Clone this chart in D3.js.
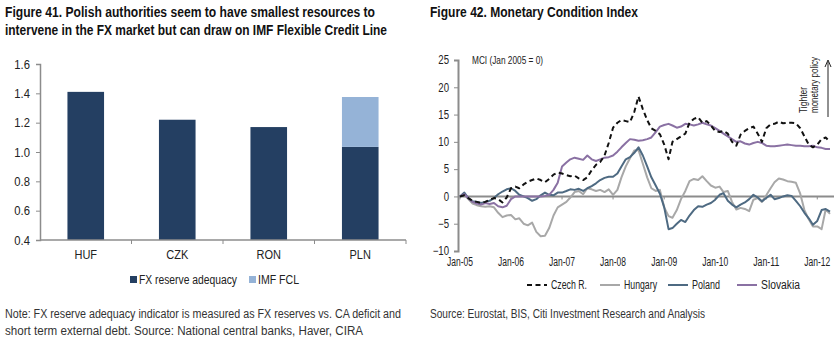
<!DOCTYPE html>
<html>
<head>
<meta charset="utf-8">
<script src="https://cdn.jsdelivr.net/npm/d3@7"></script>
<style>
  body { margin: 0; background: #fff; }
  svg text { font-family: "Liberation Sans", Arial, sans-serif; fill: #222; }
  .title { font-weight: bold; font-size: 14px; fill: #111; }
  .note { font-size: 12px; fill: #333; }
</style>
</head>
<body>
<svg id="page" width="839" height="343"></svg>
<script>
// Figure 41 - reserve adequacy by currency
const currencies = ["HUF", "CZK", "RON", "PLN"];
const fxReserve = [1.41, 1.22, 1.17, 1.035];
const imfFcl = [0, 0, 0, 0.34];
const barTicks = [0.4, 0.6, 0.8, 1.0, 1.2, 1.4, 1.6];

// Figure 42 - monthly MCI, Jan-05 .. Apr-12
const months = d3.timeMonth.range(new Date(2005, 0, 1), new Date(2012, 4, 1));
const czech = [
  0, 0.2, -0.3, -0.8, -1, -1.2, -1, -0.6, -0.3, -0.5, -1.1, -0.2,
  1.5, 1.8, 1.5, 2.2, 2.7, 3.0, 3.3, 3.0, 2.6, 3.2, 4.0, 4.4,
  4.2, 3.9, 3.7, 3.8, 3.3, 3.0, 3.5, 4.8, 5.8, 6.3, 7.5, 9.8,
  12.6, 13.5, 14, 13.8, 13.6, 15.5, 18.3, 16, 14, 12.5, 12, 11.4,
  9.5, 6.8, 10, 10.5, 11, 11.5, 13.5, 14.2, 14.5, 13.5, 13.8, 13,
  12, 11.8, 12, 11.5, 10, 9.3, 11.3, 12, 12.5, 12.8, 11.5, 10,
  12.5, 13.2, 13.3, 13.7, 13.4, 13.5, 13.5, 13.4, 12.5, 11, 9.5, 9,
  9.5, 10.5, 10.8, 10
];
const hungary = [
  0, 0.3, -0.5, -1.3, -1.6, -1.8, -1.9, -1.8, -2, -3, -3.8, -3.5,
  -3.4, -4.2, -4, -5, -5.3, -4.8, -6.5, -7.3, -7.2, -5.8, -3.5, -2,
  -1.5, -1, -0.2, 0.8, 1, 0.4, 1.5, 1.3, 1, 1.2, 0.8, 1.3,
  0.3, 1.2, 3.5, 5.5, 7, 8.4, 8.5, 6, 3.5, 1.5, 1, 1.2,
  -2, -3.6, -3.9, -2.5, -0.5, 1, 2.8, 3.2, 3, 3.7, 2.8, 2,
  1.6, 1.8, 0.8, 1, -1, -2.4, -2.1, -2.3, -2.7, -0.6, -0.3, -1,
  0.2, 1.5, 2.6, 3.3, 3.1, 2.8, 2.7, 2.5, 0.5, -2.5, -4.2, -5.5,
  -5.5, -6, -2.4, -3.2
];
const poland = [
  0, 0.7, -0.3, -0.9, -1, -1.2, -1, -0.8, -0.3, 0.4, 0.9, 1.3,
  1.5, 1, 0.3, 0, -0.3, -0.8, -0.5, 0.2, 0.7, 0.3, 0.2, 0.7,
  0.7, 1, 1.3, 1.2, 1.4, 1, 1.5, 1.9, 2.4, 3, 3.4, 3.6,
  3.6, 4.2, 5.5, 6.8, 7.2, 8, 9, 7.5, 5.5, 3.5, 2, 0.5,
  -2, -6, -5.8, -5, -4.3, -4.7, -3.5, -2.5, -1.8, -1.9, -1.5, -1.2,
  -0.6, 0.3, 0.6, -0.8, -1.5, -2, -1.5, -1.1, -0.5, 0.3, -0.2, -0.9,
  -0.3, 0.3, -0.5, -0.3, 0, 0.2, 0.1, -0.8, -1.8, -3, -4, -5.2,
  -4.5, -2.5, -2.3, -2.8
];
const slovakia = [
  0, 0.4, -0.3, -1, -1.3, -1.5, -1.2, -1.4, -1.2, -1.8, -2, -1.7,
  -0.5, 0, 0, 0, 0, 0, 0, 0, 0.1, 0.3, 1.2, 2.5,
  5.5, 6.2, 6.8, 7.1, 6.9, 6.7, 7.5, 6.8, 6.5, 6.8, 7.1, 7.2,
  7.5, 8.2, 9, 9.8, 10.5, 10.4, 10.2, 10.3, 10.5, 10.8, 11.8, 12.8,
  13.1, 13.3, 13, 12.6, 12.8, 13.3, 13.2, 13, 13.2, 13.5, 13.2, 13,
  12.5, 12, 11.5, 11, 10.5, 10, 10.1, 9.7, 9.5, 9.8, 10, 9.8,
  9.3, 9.2, 9.2, 9.3, 9.4, 9.5, 9.4, 9.3, 9.3, 9.2, 9.2, 9.3,
  9, 8.9, 8.7, 8.7
];
const mciTicks = [-10, -5, 0, 5, 10, 15, 20, 25];
const yearTicks = d3.timeYear.range(new Date(2005, 0, 1), new Date(2012, 1, 1));

const svg = d3.select("#page");
const axisGrey = "#8c8c8c";
const navy = "#243f62";
const lightBlue = "#95b3d7";

// no narrow font installed: squeeze glyphs horizontally instead
function narrow(sel, k) {
  sel.each(function() {
    this.setAttribute("textLength", this.getComputedTextLength() * k);
    this.setAttribute("lengthAdjust", "spacingAndGlyphs");
  });
}
function fitTo(sel, w) {
  sel.attr("textLength", w).attr("lengthAdjust", "spacingAndGlyphs");
}

// titles
svg.append("text").attr("class", "title").attr("x", 5).attr("y", 17)
  .text("Figure 41. Polish authorities seem to have smallest resources to").call(fitTo, 370);
svg.append("text").attr("class", "title").attr("x", 5).attr("y", 35)
  .text("intervene in the FX market but can draw on IMF Flexible Credit Line").call(fitTo, 382);
svg.append("text").attr("class", "title").attr("x", 430).attr("y", 17)
  .text("Figure 42. Monetary Condition Index").call(fitTo, 208);

// ---------- bar chart ----------
const x1 = d3.scaleBand().domain(currencies).range([40, 406]).paddingInner(0.6).paddingOuter(0.3);
const y1 = d3.scaleLinear().domain([0.4, 1.6]).range([240, 64]);

const gy1 = svg.append("g").attr("transform", "translate(40,0)")
  .call(d3.axisLeft(y1).tickValues(barTicks).tickFormat(d3.format(".1f")).tickSize(4).tickPadding(6));
gy1.select(".domain").attr("stroke", axisGrey).attr("stroke-width", 1.5);
gy1.selectAll(".tick line").attr("stroke", axisGrey);
gy1.selectAll(".tick text").style("font-size", "12.5px").attr("fill", "#222").call(narrow, 0.9);

const barStack = d3.stack().keys(["fx", "fcl"])(
  currencies.map((c, i) => ({ cur: c, fx: fxReserve[i] - 0.4, fcl: imfFcl[i] })));

svg.append("g").selectAll("g").data(barStack).join("g")
  .attr("fill", (d, i) => i === 0 ? navy : lightBlue)
  .selectAll("rect").data(d => d).join("rect")
  .attr("x", d => x1(d.data.cur))
  .attr("width", x1.bandwidth())
  .attr("y", d => y1(d[1] + 0.4))
  .attr("height", d => y1(d[0] + 0.4) - y1(d[1] + 0.4));

// category axis with ticks between bars
const gx1 = svg.append("g").attr("transform", "translate(0,240)");
gx1.append("line").attr("x1", 40).attr("x2", 406).attr("stroke", axisGrey).attr("stroke-width", 1.5);
gx1.selectAll("line.sep").data(currencies).join("line").attr("class", "sep")
  .attr("x1", d => x1(d) - x1.step() * x1.paddingOuter() + x1.step())
  .attr("x2", d => x1(d) - x1.step() * x1.paddingOuter() + x1.step())
  .attr("y1", 0).attr("y2", 4).attr("stroke", axisGrey);
gx1.selectAll("text").data(currencies).join("text")
  .attr("x", d => x1(d) + x1.bandwidth() / 2).attr("y", 19)
  .attr("text-anchor", "middle").style("font-size", "12.5px").text(d => d)
  .call(narrow, 0.88);

// bar legend
const leg1 = svg.append("g").attr("transform", "translate(130,276)");
[["FX reserve adequacy", navy, 0, 98], ["IMF FCL", lightBlue, 119, 41]].forEach(([label, col, dx, w]) => {
  leg1.append("rect").attr("x", dx).attr("y", 0).attr("width", 7).attr("height", 7).attr("fill", col);
  leg1.append("text").attr("x", dx + 9).attr("y", 8).style("font-size", "12px").text(label).call(fitTo, w);
});

// ---------- MCI line chart ----------
const x2 = d3.scaleTime().domain([months[0], months[months.length - 1]]).range([460, 830]);
const y2 = d3.scaleLinear().domain([-10, 25]).range([251, 60]);

const gy2 = svg.append("g").attr("transform", "translate(458,0)")
  .call(d3.axisLeft(y2).tickValues(mciTicks).tickSize(4).tickPadding(5));
gy2.select(".domain").attr("stroke", axisGrey).attr("stroke-width", 2);
gy2.selectAll(".tick line").attr("stroke", axisGrey);
gy2.selectAll(".tick text").style("font-size", "12px").attr("fill", "#222").call(narrow, 0.8);

// zero line acts as the time axis
svg.append("line").attr("x1", 458).attr("x2", 834).attr("y1", y2(0)).attr("y2", y2(0))
  .attr("stroke", axisGrey).attr("stroke-width", 2);
svg.append("g").selectAll("line").data(yearTicks).join("line")
  .attr("x1", d => x2(d)).attr("x2", d => x2(d))
  .attr("y1", y2(0)).attr("y2", y2(0) + 3).attr("stroke", axisGrey);
svg.append("g").selectAll("text").data(yearTicks).join("text")
  .attr("x", d => x2(d)).attr("y", 266).attr("text-anchor", "middle")
  .style("font-size", "12px").text(d3.timeFormat("Jan-%y"))
  .call(fitTo, 26);

const series = [
  { name: "Czech R.", values: czech, color: "#111", dash: "5,3.5", lw: 36 },
  { name: "Hungary", values: hungary, color: "#a8a8a8", dash: null, lw: 33 },
  { name: "Poland", values: poland, color: "#4e6a82", dash: null, lw: 28 },
  { name: "Slovakia", values: slovakia, color: "#8a71a3", dash: null, lw: 39 }
];
const line = d3.line().x((d, i) => x2(months[i])).y(d => y2(d));

// Czech R. drawn last so the dashes sit on top
[series[1], series[2], series[3], series[0]].forEach(s => {
  svg.append("path").datum(s.values)
    .attr("d", line).attr("fill", "none")
    .attr("stroke", s.color).attr("stroke-width", 2)
    .attr("stroke-dasharray", s.dash)
    .attr("stroke-linejoin", "round");
});

svg.append("text").attr("x", 472).attr("y", 64).style("font-size", "10.5px")
  .text("MCI (Jan 2005 = 0)").call(fitTo, 71);

// "Tighter monetary policy" note with arrow
const note = svg.append("g").attr("transform", "translate(807,113) rotate(-90)");
note.append("text").attr("x", 0).attr("y", 0).style("font-size", "10.5px").text("Tighter").call(fitTo, 26);
note.append("text").attr("x", 0).attr("y", 10.5).style("font-size", "10.5px").text("monetary policy").call(fitTo, 56);
svg.append("line").attr("x1", 828).attr("x2", 828).attr("y1", 117).attr("y2", 62)
  .attr("stroke", "#222").attr("stroke-width", 1);
svg.append("path").attr("d", "M825,67 L828,60 L831,67").attr("fill", "none").attr("stroke", "#222");

// line legend
const leg2 = svg.append("g").attr("transform", "translate(0,285)");
const legPos = [527, 600, 668, 737];
series.forEach((s, i) => {
  leg2.append("line").attr("x1", legPos[i]).attr("x2", legPos[i] + 20)
    .attr("stroke", s.color).attr("stroke-width", 2).attr("stroke-dasharray", s.dash);
  leg2.append("text").attr("x", legPos[i] + 24).attr("y", 4).style("font-size", "12px")
    .text(s.name).call(fitTo, s.lw);
});

// notes / sources
svg.append("text").attr("class", "note").attr("x", 5).attr("y", 318)
  .text("Note: FX reserve adequacy indicator is measured as FX reserves vs. CA deficit and").call(fitTo, 396);
svg.append("text").attr("class", "note").attr("x", 5).attr("y", 335)
  .text("short term external debt. Source: National central banks, Haver, CIRA").call(fitTo, 358);
svg.append("text").attr("class", "note").attr("x", 430).attr("y", 318)
  .text("Source: Eurostat, BIS, Citi Investment Research and Analysis").call(fitTo, 275);
</script>
</body>
</html>
